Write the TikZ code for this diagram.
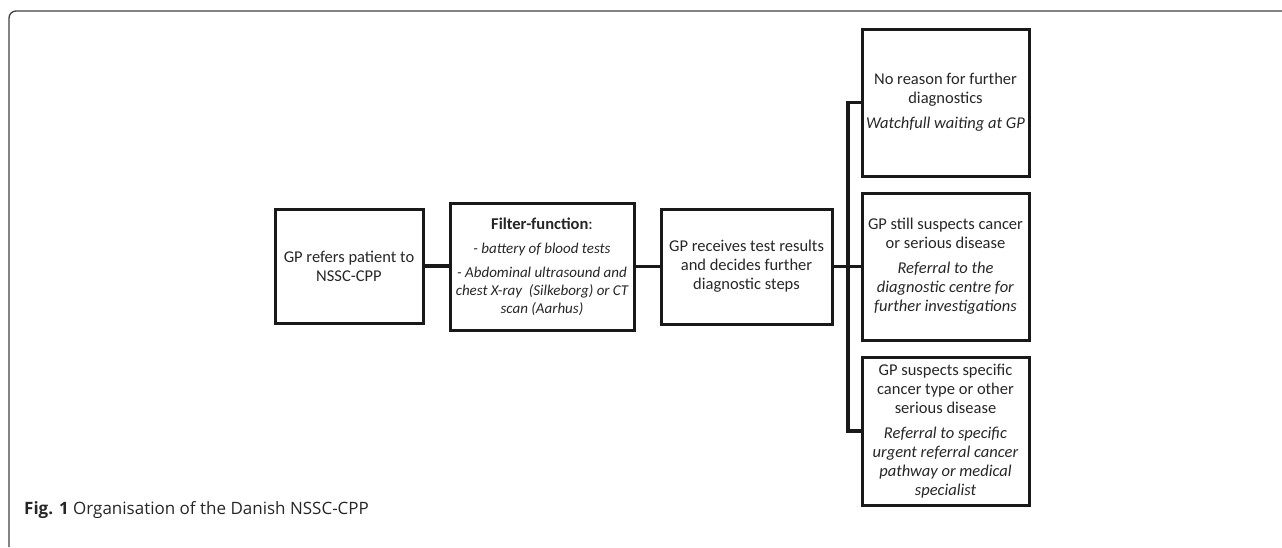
\documentclass[tikz,border=0pt]{standalone}
\usepackage{fontspec}
\setmainfont{Carlito}
\newfontfamily\capfont{Open Sans}
\newcommand{\itl}[1]{{\fontsize{15}{17.5}\selectfont\itshape #1}}
\begin{document}
\begin{tikzpicture}[x=1pt,y=-1pt,
  box/.style={draw=black!90, line width=3pt, align=center, inner sep=0pt,
    font=\fontsize{16.5}{19}\selectfont, text=black!85},
  link/.style={draw=black!90, line width=3.5pt}]
\useasboundingbox (0,0) rectangle (1282,547);
% frame
\draw[line width=1.3pt, black!75] (1282,11) -- (16,11) arc[start angle=270,end angle=180,radius=7] -- (9,547);
% boxes
\node[box, minimum width=148pt, minimum height=114pt] (b1) at (349,266)
  {GP refers patient to\\NSSC-CPP};
\node[box, minimum width=184pt, minimum height=127pt] (b2) at (542,267)
  {\textbf{Filter-function}:\\[5pt]
   \itl{- battery of blood tests}\\[5pt]
   \itl{- Abdominal ultrasound and}\\[-1pt]\itl{chest X-ray\ \ (Silkeborg) or CT}\\[-1pt]\itl{scan (Aarhus)}};
\node[box, minimum width=171pt, minimum height=115pt] (b3) at (746.5,266.5)
  {GP receives test results\\and decides further\\diagnostic steps};
\node[box, minimum width=167pt, minimum height=147pt] (b4) at (945.5,102.5)
  {No reason for further\\diagnostics\\[6pt]\textit{Watchfull waiting at GP}};
\node[box, minimum width=167pt, minimum height=147pt] (b5) at (945.5,266.5)
  {GP still suspects cancer\\or serious disease\\[6pt]\textit{Referral to the}\\\textit{diagnostic centre for}\\\textit{further investigations}};
\node[box, minimum width=167pt, minimum height=148pt] (b6) at (945.5,431)
  {GP suspects specific\\cancer type or other\\serious disease\\[6pt]\textit{Referral to specific}\\\textit{urgent referral cancer}\\\textit{pathway or medical}\\\textit{specialist}};
% connectors
\coordinate (bt) at (848,102.5);
\coordinate (bm) at (848,266.5);
\coordinate (bb) at (848,431);
\draw[link] (b1.east) -- (b2.west |- b1.east);
\draw[link] (b2.east |- b3.west) -- (b3.west);
\draw[link] (b3.east) -- (bm) -- (b5.west);
\draw[link, line join=miter] (b4.west) -- (bt) -- (bb) -- (b6.west);
% caption
\node[anchor=base west, inner sep=0pt, font=\capfont\fontsize{17}{20}\selectfont, text=black!85] (cap) at (24,514)
  {\textbf{Fig. 1} Organisation of the Danish NSSC-CPP};
\end{tikzpicture}
\end{document}
